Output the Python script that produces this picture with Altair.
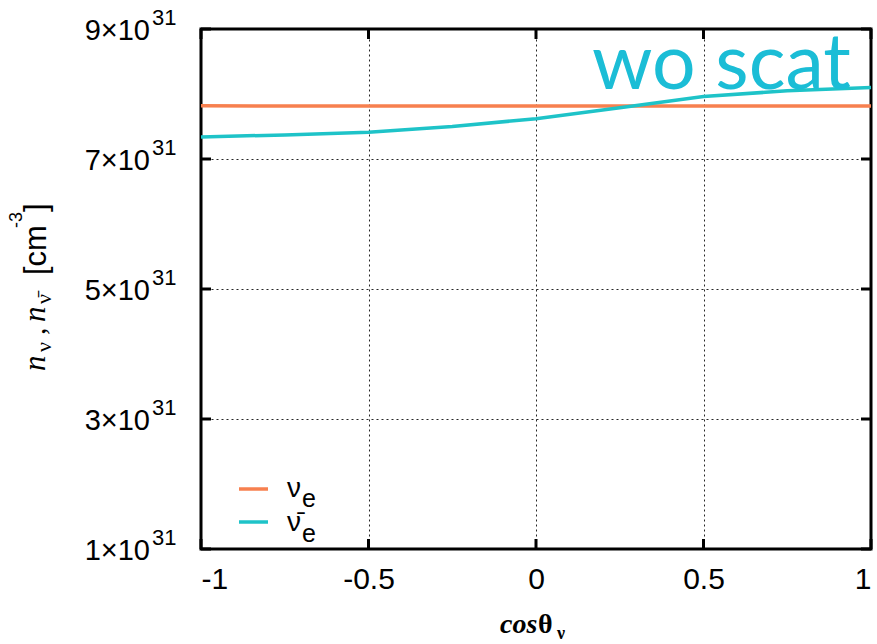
import altair as alt
import pandas as pd

# Angular distribution of neutrino number densities (no scattering case)
cos_theta = [-1.0, -0.75, -0.5, -0.25, 0.0, 0.25, 0.5, 0.75, 1.0]
n_nue = [7.82e31, 7.815e31, 7.815e31, 7.815e31, 7.815e31, 7.815e31, 7.815e31, 7.815e31, 7.815e31]
n_nuebar = [7.34e31, 7.37e31, 7.41e31, 7.50e31, 7.62e31, 7.79e31, 7.96e31, 8.05e31, 8.10e31]

x_ticks = [-1, -0.5, 0, 0.5, 1]
y_ticks = [1e31, 3e31, 5e31, 7e31, 9e31]
y_tick_mantissa = ["1", "3", "5", "7", "9"]

series_colors = ["#F7804F", "#1EC3C8"]
note_text = "wo scat"
note_color = "#1BBDD6"

W, H = 670, 520          # plot area
LEFT, TOP = 201, 29      # plot origin on the page

df_nue = pd.DataFrame({"x": cos_theta, "n": n_nue})
df_nuebar = pd.DataFrame({"x": cos_theta, "n": n_nuebar})
df_xt = pd.DataFrame({"x": x_ticks})
df_yt = pd.DataFrame({"y": y_ticks,
                      "m": [m + "\u00d710" for m in y_tick_mantissa],
                      "e": ["31"] * len(y_ticks)})

xs = alt.Scale(domain=[-1, 1], nice=False, zero=False)
ys = alt.Scale(domain=[1e31, 9e31], nice=False, zero=False)

grid_kw = dict(grid=True, gridColor="black", gridDash=[2, 3], gridWidth=1, gridOpacity=0.85,
               ticks=False, domain=False, title=None)

x_enc = alt.X("x:Q", scale=xs, axis=alt.Axis(values=x_ticks, labelExpr="'' + datum.value",
                                               labelFont="Liberation Sans", labelFontSize=30,
                                               labelColor="black", labelPadding=15, **grid_kw))
y_enc = alt.Y("n:Q", scale=ys, axis=alt.Axis(values=y_ticks, labels=False, **grid_kw))

line_nue = alt.Chart(df_nue).mark_line(color=series_colors[0], strokeWidth=3.5).encode(x=x_enc, y=y_enc)
line_nuebar = alt.Chart(df_nuebar).mark_line(color=series_colors[1], strokeWidth=3.5).encode(
    x=alt.X("x:Q", scale=xs), y=alt.Y("n:Q", scale=ys))

# inward ticks on all four sides
tick_kw = dict(color="black", strokeWidth=3)
xt_bottom = alt.Chart(df_xt).mark_rule(**tick_kw).encode(
    x=alt.X("x:Q", scale=xs), y=alt.value(H), y2=alt.value(H - 10))
xt_top = alt.Chart(df_xt).mark_rule(**tick_kw).encode(
    x=alt.X("x:Q", scale=xs), y=alt.value(0), y2=alt.value(10))
yt_left = alt.Chart(df_yt).mark_rule(**tick_kw).encode(
    y=alt.Y("y:Q", scale=ys), x=alt.value(0), x2=alt.value(10))
yt_right = alt.Chart(df_yt).mark_rule(**tick_kw).encode(
    y=alt.Y("y:Q", scale=ys), x=alt.value(W), x2=alt.value(W - 10))

# y tick labels: mantissa x 10 with superscript exponent
ylab_main = alt.Chart(df_yt).mark_text(font="Liberation Sans", fontSize=29, align="right",
                                       baseline="alphabetic", dy=11, color="black").encode(
    y=alt.Y("y:Q", scale=ys), x=alt.value(150 - LEFT), text="m:N")
ylab_exp = alt.Chart(df_yt).mark_text(font="Liberation Sans", fontSize=22, align="left",
                                      baseline="alphabetic", dy=-4, color="black").encode(
    y=alt.Y("y:Q", scale=ys), x=alt.value(152 - LEFT), text="e:N")


def piece(text, px, py, size, font="Liberation Serif", style="normal", weight="normal",
          angle=0, color="black", align="left"):
    return alt.Chart(pd.DataFrame({"t": [text]})).mark_text(
        font=font, fontSize=size, fontStyle=style, fontWeight=weight, angle=angle,
        align=align, baseline="alphabetic", color=color).encode(
        x=alt.value(px - LEFT), y=alt.value(py - TOP), text="t:N")


def seg(px1, px2, py, color):
    return alt.Chart(pd.DataFrame({"k": [0]})).mark_rule(color=color, strokeWidth=3.5).encode(
        x=alt.value(px1 - LEFT), x2=alt.value(px2 - LEFT), y=alt.value(py - TOP))


texts = [
    # x-axis title: cos theta_nu
    piece("cos", 500, 633, 28, style="italic", weight="bold"),
    piece("\u03b8", 538, 633, 28, weight="bold"),
    piece("\u03bd", 557, 639, 18, weight="bold"),
    # y-axis title: n_nu, n_nubar [cm^-3]
    piece("n", 45, 371, 31, style="italic", angle=270),
    piece("\u03bd", 51, 352, 22, angle=270),
    piece(",", 45, 335, 30, angle=270),
    piece("n", 45, 322, 31, style="italic", angle=270),
    piece("\u03bd\u0304", 51, 304, 22, angle=270),
    piece("[cm", 46, 275, 31, font="Liberation Sans", angle=270),
    piece("-3", 22, 228, 18, font="Liberation Sans", angle=270),
    piece("]", 46, 212, 31, font="Liberation Sans", angle=270),
    # legend
    seg(239, 268, 489, series_colors[0]),
    seg(239, 268, 522, series_colors[1]),
    piece("\u03bd", 287, 497, 28, font="Liberation Sans"),
    piece("e", 302, 507, 25, font="Liberation Sans"),
    piece("\u03bd\u0304", 287, 531, 28, font="Liberation Sans"),
    piece("e", 302, 542, 25, font="Liberation Sans"),
    # annotation
    piece(note_text, 592, 89, 77, font="Lato", color=note_color),
]

chart = alt.layer(
    line_nue, line_nuebar, xt_bottom, xt_top, yt_left, yt_right, ylab_main, ylab_exp, *texts
).properties(
    width=W, height=H,
    autosize=alt.AutoSizeParams(type="none"),
    padding={"left": LEFT, "top": TOP, "right": 877 - LEFT - W, "bottom": 644 - TOP - H},
    background="white",
).configure_view(stroke="black", strokeWidth=3)

chart.save("out.html", embed_options={"renderer": "svg", "actions": False})
